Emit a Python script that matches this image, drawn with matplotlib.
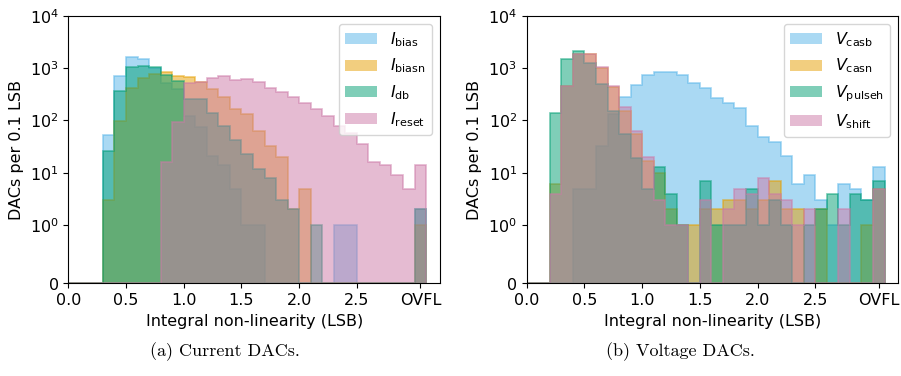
"""
INL histograms of the current and voltage DACs
"""

import numpy as np
import matplotlib
matplotlib.use("Agg")
import matplotlib.pyplot as plt
from matplotlib.ticker import NullLocator

# bins of 0.1 LSB from 0.0 to 3.0, last bin (3.0-3.1) is the overflow
bin_edges = np.round(np.arange(0, 3.11, 0.1), 2)
xticks = [0.0, 0.5, 1.0, 1.5, 2.0, 2.5, 3.05]
xticklabels = ['0.0', '0.5', '1.0', '1.5', '2.0', '2.5', 'OVFL']

# current DACs (counts per bin)
i_bias = [0, 0, 0, 52, 697, 1630, 1480, 1000, 523, 390, 124, 75, 21, 14, 5, 1,
          1, 0, 0, 0, 0, 0, 0, 1, 1, 0, 0, 0, 0, 0, 2]
i_biasn = [0, 0, 0, 3, 96, 420, 650, 770, 830, 700, 668, 540, 400, 280, 165, 133,
           62, 32, 20, 2, 5, 0, 0, 0, 0, 0, 0, 0, 0, 0, 1]
i_db = [0, 0, 0, 26, 365, 1030, 1100, 1030, 750, 560, 254, 254, 141, 80, 42, 23,
        12, 8, 3, 2, 0, 1, 0, 0, 0, 0, 0, 0, 0, 0, 2]
i_reset = [0, 0, 0, 0, 0, 0, 0, 0, 16, 93, 520, 540, 650, 700, 600, 620,
           540, 420, 355, 280, 215, 165, 119, 77, 58, 35, 16, 14, 9, 5, 14]

# voltage DACs (counts per bin)
v_casb = [0, 0, 0, 0, 5, 5, 33, 130, 285, 473, 730, 828, 828, 730, 522, 410,
          266, 211, 173, 80, 49, 38, 21, 6, 9, 3, 1, 6, 5, 3, 13]
v_casn = [0, 0, 6, 460, 1820, 1880, 1000, 430, 150, 54, 17, 10, 2, 1, 1, 2,
          2, 3, 3, 2, 3, 7, 2, 2, 0, 2, 0, 0, 0, 1, 5]
v_pulseh = [0, 0, 141, 1480, 2110, 1270, 500, 150, 56, 19, 5, 13, 4, 1, 0, 7,
            1, 1, 1, 5, 1, 3, 1, 0, 1, 2, 4, 1, 4, 3, 7]
v_shift = [0, 0, 4, 450, 1820, 1880, 1030, 450, 178, 62, 20, 3, 1, 1, 0, 3,
           0, 2, 5, 4, 8, 4, 3, 1, 2, 0, 0, 2, 0, 0, 5]

current_labels = [r'$I_\mathrm{bias}$', r'$I_\mathrm{biasn}$', r'$I_\mathrm{db}$', r'$I_\mathrm{reset}$']
voltage_labels = [r'$V_\mathrm{casb}$', r'$V_\mathrm{casn}$', r'$V_\mathrm{pulseh}$', r'$V_\mathrm{shift}$']
colors = ['#56B4E9', '#E69F00', '#009E73', '#CC79A7']

plt.rcParams['font.size'] = 11.5


def plot_panel(ax, series, labels):
    for counts, label, c in zip(series, labels, colors):
        ax.stairs(counts, bin_edges, fill=True, color=c, alpha=0.5, label=label)
        # outline on top of the fill
        ax.stairs(counts, bin_edges, color=c, alpha=0.55, linewidth=1.2)
    ax.set_yscale('symlog', linthresh=1)
    ax.set_ylim(0, 1e4)
    ax.yaxis.set_minor_locator(NullLocator())
    ax.set_xlim(0, 3.22)
    ax.set_xticks(xticks)
    ax.set_xticklabels(xticklabels)
    ax.set_xlabel('Integral non-linearity (LSB)')
    ax.set_ylabel('DACs per 0.1 LSB')
    ax.legend(loc='upper right')


fig = plt.figure(figsize=(9.01, 3.76), dpi=100)
ax1 = fig.add_axes([0.0758, 0.2465, 0.4125, 0.7117])
ax2 = fig.add_axes([0.5846, 0.2465, 0.4125, 0.7117])

plot_panel(ax1, [i_bias, i_biasn, i_db, i_reset], current_labels)
plot_panel(ax2, [v_casb, v_casn, v_pulseh, v_shift], voltage_labels)

fig.text(0.25, 0.065, '(a) Current DACs.', family='cmr10', fontsize=13, ha='center', va='center')
fig.text(0.755, 0.065, '(b) Voltage DACs.', family='cmr10', fontsize=13, ha='center', va='center')

fig.savefig('out.png', dpi=100)
